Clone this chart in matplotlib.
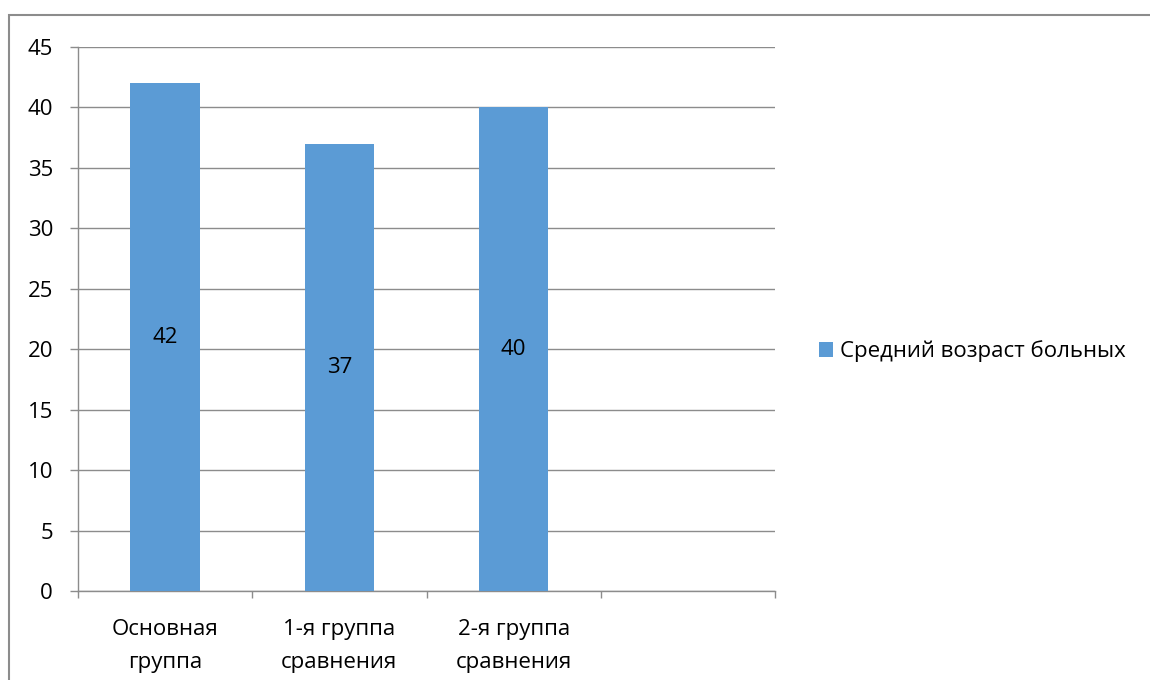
import matplotlib.pyplot as plt
from matplotlib.patches import Rectangle

categories = ["Основная\nгруппа", "1-я группа\nсравнения", "2-я группа\nсравнения", ""]
values = [42, 37, 40]
series_name = "Средний возраст больных"
yticks = [0, 5, 10, 15, 20, 25, 30, 35, 40, 45]

bar_color = "#5B9BD5"
grid_color = "#8C8C8C"
fs = 16

plt.rcParams["font.family"] = ["Open Sans", "DejaVu Sans"]

fig = plt.figure(figsize=(11.5, 6.8), dpi=100)
ax = fig.add_axes([78 / 1150, 1 - 591 / 680, 697 / 1150, 544 / 680])

x = list(range(len(values)))
bars = ax.bar(x, values, width=0.4, color=bar_color, label=series_name, zorder=3)
for b, v in zip(bars, values):
    ax.text(b.get_x() + b.get_width() / 2, v / 2, str(v),
            ha="center", va="center", fontsize=fs, color="black", zorder=4)

ax.set_xlim(-0.5, len(categories) - 0.5)
ax.set_ylim(0, 45)
ax.set_yticks(yticks)
ax.yaxis.grid(True, color=grid_color, lw=1.0)
ax.set_axisbelow(True)

ax.set_xticks(range(len(categories)))
ax.set_xticklabels(categories, fontsize=fs, linespacing=1.75)
ax.tick_params(axis="x", length=0, pad=20)
ax.set_xticks([i - 0.5 for i in range(len(categories) + 1)], minor=True)
ax.tick_params(axis="x", which="minor", length=5, color=grid_color, width=1.0)
ax.tick_params(axis="y", length=6, color=grid_color, width=1.0, labelsize=fs, pad=12)

for side in ["top", "right"]:
    ax.spines[side].set_visible(False)
for side in ["left", "bottom"]:
    ax.spines[side].set_color(grid_color)
    ax.spines[side].set_linewidth(1.0)

fig.legend(handles=[bars], labels=[series_name], loc="center left",
           bbox_to_anchor=(799 / 1150, 1 - 351 / 680), frameon=False,
           fontsize=fs, handlelength=0.65, handleheight=0.65, handletextpad=0.3)

# outer chart frame
fig.patches.append(Rectangle((9 / 1150, -0.1), 1.2, 1.1 - 15 / 680,
                             transform=fig.transFigure, fill=False,
                             edgecolor="#8C8C8C", lw=1.5))

fig.savefig("out.png", dpi=100)
